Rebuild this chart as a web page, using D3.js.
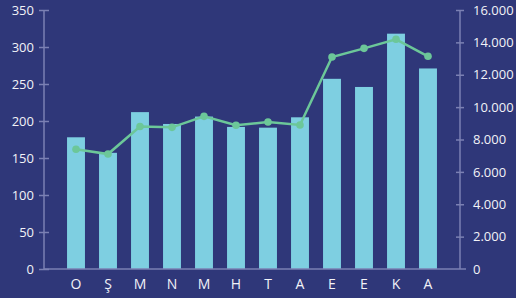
<!DOCTYPE html>
<html>
<head>
<style type="text/css">
    body { margin: 0; background: #2f3779; }
    svg { display: block; }
    text { font-family: "Open Sans", sans-serif; fill: #f2f2f7; }
</style>
<script src="https://d3js.org/d3.v7.min.js"></script>
</head>
<body>
<svg id="chart" width="516" height="298"></svg>
<script type="text/javascript">
// months (Turkish initials), bar values (left axis), line values (right axis)
var months = ['O', 'Ş', 'M', 'N', 'M', 'H', 'T', 'A', 'E', 'E', 'K', 'A'];
var barValues = [178, 157, 212, 196, 206, 192, 191, 205, 257, 246, 318, 271];
var lineValues = [7400, 7100, 8800, 8750, 9430, 8880, 9080, 8900, 13100, 13630, 14190, 13140];
var leftTicks = [0, 50, 100, 150, 200, 250, 300, 350];
var rightTicks = [0, 2000, 4000, 6000, 8000, 10000, 12000, 14000, 16000];

var svg = d3.select('#chart');
var x0 = 44, x1 = 460, yTop = 10, yBot = 269;

svg.append('rect').attr('width', 516).attr('height', 298).attr('fill', '#2f3779');

var x = d3.scaleBand()
    .domain(d3.range(months.length))
    .range([x0 + 16, x1 - 16])
    .paddingInner(0.44)
    .paddingOuter(0.22);
var yL = d3.scaleLinear().domain([0, 350]).range([yBot, yTop]);
var yR = d3.scaleLinear().domain([0, 16000]).range([yBot, yTop]);

// bars
svg.append('g').selectAll('rect')
    .data(barValues)
    .enter()
    .append('rect')
    .attr('x', (d, i) => x(i))
    .attr('width', x.bandwidth())
    .attr('y', d => yL(d))
    .attr('height', d => yBot - yL(d))
    .attr('fill', '#7ecfe1');

var axisColor = '#7b80b3';

// left axis
var gL = svg.append('g').attr('transform', 'translate(' + x0 + ',0)')
    .call(d3.axisLeft(yL).tickValues(leftTicks).tickSize(0).tickPadding(10));
gL.select('.domain').remove();
gL.append('line').attr('y1', yTop).attr('y2', yBot).attr('stroke', axisColor).attr('stroke-width', 1.5);
gL.selectAll('.tick').append('line').attr('x1', -5).attr('x2', 5).attr('stroke', axisColor).attr('stroke-width', 1.5);
gL.selectAll('.tick text').style('font-size', '13px').attr('fill', '#f2f2f7').attr('x', -10);

// right axis
var gR = svg.append('g').attr('transform', 'translate(' + x1 + ',0)')
    .call(d3.axisRight(yR).tickValues(rightTicks).tickSize(0).tickPadding(13)
        .tickFormat(d => d3.format(',')(d).replace(/,/g, '.')));
gR.select('.domain').remove();
gR.append('line').attr('y1', yTop).attr('y2', yBot).attr('stroke', axisColor).attr('stroke-width', 1.5);
gR.selectAll('.tick').filter(d => d > 0).append('line').attr('x1', -4).attr('x2', 4).attr('stroke', axisColor).attr('stroke-width', 1.5);
gR.selectAll('.tick text').style('font-size', '13px').attr('fill', '#f2f2f7');

// baseline
svg.append('line')
    .attr('x1', x0).attr('x2', x1 + 6)
    .attr('y1', yBot).attr('y2', yBot)
    .attr('stroke', axisColor).attr('stroke-width', 1.5);

// month labels
svg.append('g').selectAll('text')
    .data(months)
    .enter()
    .append('text')
    .attr('x', (d, i) => x(i) + x.bandwidth() / 2)
    .attr('y', 289)
    .attr('text-anchor', 'middle')
    .style('font-size', '14px')
    .style('font-weight', '500')
    .text(d => d);

// line
var line = d3.line()
    .x((d, i) => x(i) + x.bandwidth() / 2)
    .y(d => yR(d));
svg.append('path')
    .datum(lineValues)
    .attr('d', line)
    .attr('fill', 'none')
    .attr('stroke', '#6cc799')
    .attr('stroke-width', 2.5);
svg.append('g').selectAll('circle')
    .data(lineValues)
    .enter()
    .append('circle')
    .attr('cx', (d, i) => x(i) + x.bandwidth() / 2)
    .attr('cy', d => yR(d))
    .attr('r', 3.8)
    .attr('fill', '#6cc799');
</script>
</body>
</html>
